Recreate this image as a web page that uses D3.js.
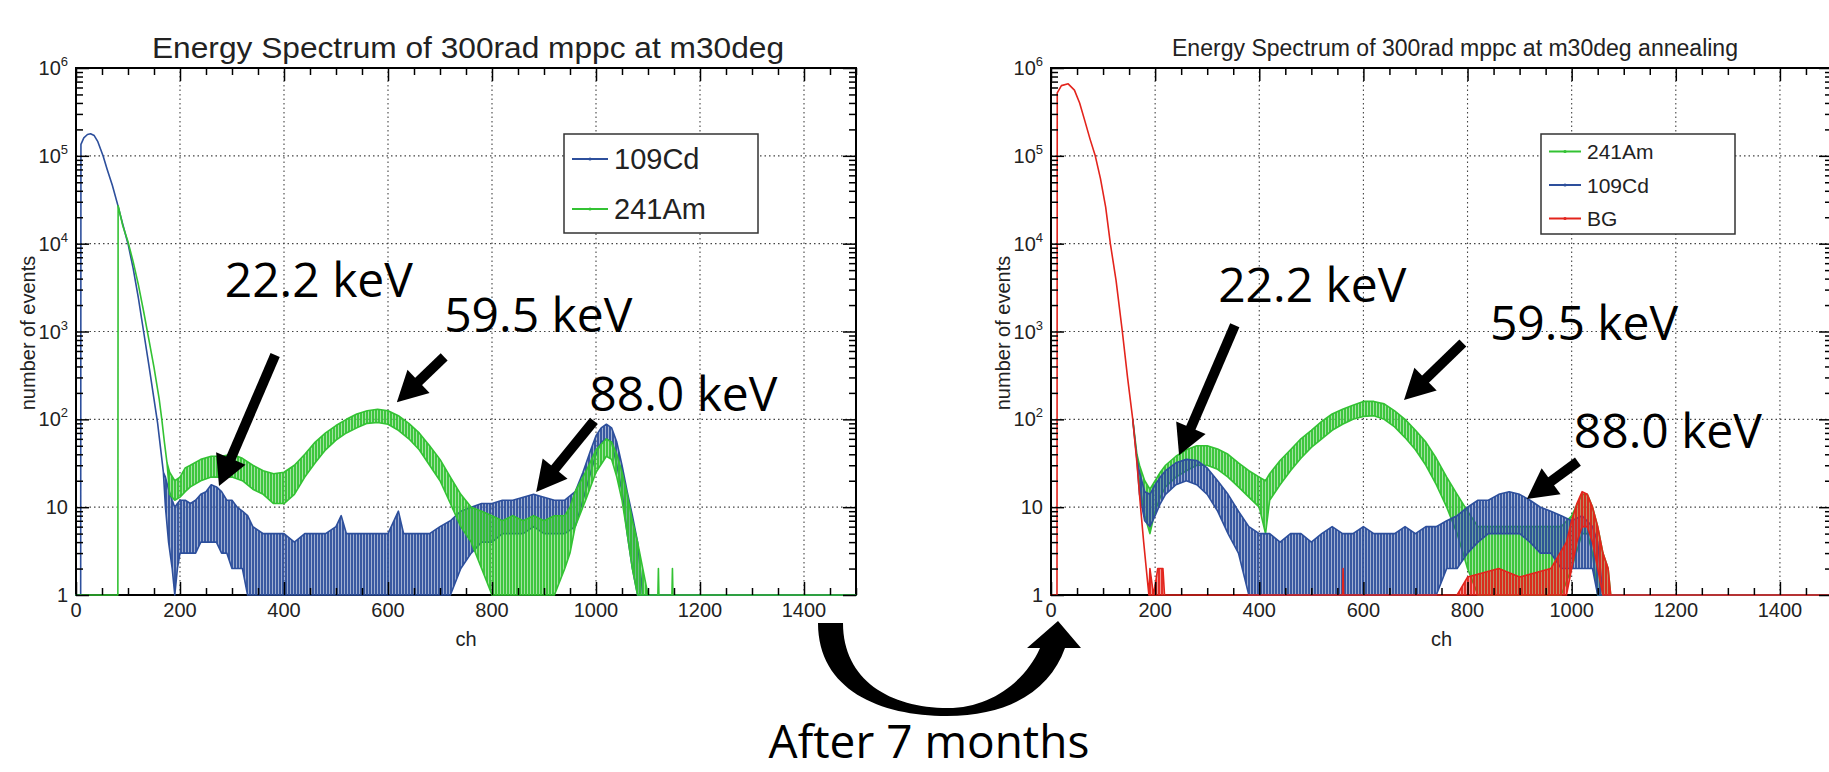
<!DOCTYPE html>
<html>
<head>
<meta charset="utf-8">
<script src="https://cdnjs.cloudflare.com/ajax/libs/d3/7.8.5/d3.min.js"></script>
<style>
  body { margin: 0; background: #fff; }
  text { font-family: "Liberation Sans", Arial, sans-serif; }
</style>
</head>
<body>
<script>
// channel ticks and log decades
var xMajor = [0, 200, 400, 600, 800, 1000, 1200, 1400];
var decades = [1, 10, 100, 1e3, 1e4, 1e5, 1e6];

// histograms: [ch, low, high] (high omitted = single value)
// left pad: before
var cdLeft = [
  [0,1],[9,1],[9.5,1.35e5],[15,1.6e5],[22,1.75e5],[28,1.78e5],[35,1.7e5],[42,1.45e5],[52,1.0e5],[60,7e4],
  [70,4.6e4],[80,2.8e4],[90,1.65e4],[100,1.0e4],[110,5.2e3],[120,2.4e3],[130,1.0e3],[140,420],[150,170],
  [157,90],[163,45],[168,25],[172,10,22],[178,4,16],[185,2,12],[190,1,10],[195,2,11],[200,3,12],[210,3,12],
  [220,3,11],[230,3,12],[240,4,14],[250,4,15],[260,4,18],[270,4,17],[280,3,15],[290,3,12],[300,2,12],
  [310,2,10],[320,2,9],[330,1,8],[340,1,6],[360,1,5],[380,1,5],[400,1,5],[420,1,4],[440,1,5],[460,1,5],
  [480,1,5],[500,1,6],[510,1,8],[520,1,5],[540,1,5],[560,1,5],[580,1,5],[600,1,5],[620,1,9],[630,1,5],
  [660,1,5],[680,1,5],[700,1,6],[720,1,7],[740,2,9],[760,3,10],[780,4,11],[800,4,11],[820,5,12],[840,5,12],
  [860,5,13],[880,6,14],[900,5,13],[920,5,12],[940,5,12],[960,6,15],[975,12,25],[990,25,45],[1000,40,65],
  [1010,55,80],[1020,60,88],[1030,55,80],[1040,30,55],[1050,15,30],[1060,5,15],[1070,2,8],[1080,1,4],
  [1090,1],[1500,1]
];
var amLeft = [
  [0,1],[80.5,1],[81,2.7e4],[90,1.6e4],[100,1.05e4],[110,6.2e3],[120,3.4e3],[130,1.7e3],[140,820],[150,390],
  [160,170],[165,100],[170,55],[175,32],[180,14,25],[190,12,20],[200,13,22],[210,15,28],[220,17,30],
  [240,20,35],[260,22,38],[280,22,38],[300,22,40],[320,20,36],[340,16,30],[360,14,26],[380,11,24],
  [400,11,25],[420,14,30],[440,22,40],[460,32,55],[480,45,70],[500,58,85],[520,70,100],[540,80,115],
  [560,90,125],[580,92,130],[600,88,125],[620,75,110],[640,60,90],[660,45,70],[680,30,50],[700,20,35],
  [720,11,22],[740,6,14],[760,4,10],[780,2,9],[800,1,8],[820,1,7],[840,1,8],[860,1,7],[880,1,8],[900,1,7],
  [920,1,8],[940,2,8],[950,3,10],[960,6,15],[980,12,25],[1000,25,45],[1020,38,60],[1030,35,55],[1040,22,40],
  [1050,12,25],[1060,5,14],[1070,2,7],[1080,1,4],[1090,1,2],[1100,1],[1119,1],[1120,1,2],[1121,1],
  [1146,1],[1147,1,2],[1148,1],[1500,1]
];
// right pad: after annealing
var bgRight = [
  [0,1],[11.5,1],[12,5.2e5],[20,6.3e5],[33,6.6e5],[45,5.6e5],[55,4.0e5],[65,2.5e5],[75,1.55e5],[85,1.0e5],
  [95,5.5e4],[105,2.6e4],[114,1.0e4],[125,3.8e3],[137,1.0e3],[147,300],[157,100],[165,32],[172,10],[178,4],
  [185,1.5],[188,1],[190,1,2],[197,1],[205,1,2],[215,1,2],[218,1],[560,1],[561,1,2],[562,1],[780,1],
  [800,1,1.6],[860,1,2],[900,1,1.6],[960,1,2],[990,1,4],[1000,2,7],[1010,4,11],[1020,6,15],[1030,6,14],
  [1040,4,10],[1050,2,6],[1060,1,3],[1070,1,2],[1075,1],[1500,1]
];
var amRight = [
  [157,100],[165,40],[170,18,30],[180,8,20],[190,5,16],[200,9,20],[210,13,25],[220,17,30],[240,22,38],
  [260,26,45],[280,30,50],[300,30,50],[320,27,46],[340,22,40],[360,17,32],[380,13,26],[400,10,22],
  [412,5,20],[420,12,24],[440,18,34],[460,26,45],[480,36,60],[500,48,75],[520,60,95],[540,75,115],
  [560,88,130],[580,100,145],[600,108,160],[620,110,160],[640,100,150],[660,82,125],[680,62,100],
  [700,45,75],[720,30,55],[740,18,36],[760,10,22],[780,5,14],[800,2,9],[820,1,6],[980,1,6],[1000,2,8],
  [1020,5,14],[1030,5,14],[1040,3,10],[1050,1,6],[1060,1,3],[1070,1,2],[1075,1],[1500,1]
];
var cdRight = [
  [157,100],[165,35],[170,14,25],[180,7,15],[190,6,14],[200,8,18],[210,11,22],[220,14,26],[240,18,32],
  [260,20,35],[280,18,34],[300,14,28],[320,9,20],[340,5,14],[360,3,9],[380,1,6],[400,1,5],[420,1,5],
  [440,1,4],[460,1,5],[480,1,5],[500,1,4],[520,1,5],[540,1,6],[560,1,5],[580,1,5],[600,1,6],[620,1,5],
  [640,1,5],[660,1,5],[680,1,6],[700,1,5],[720,1,6],[740,1,6],[760,2,7],[780,2,8],[800,3,10],[820,4,12],
  [840,5,12],[860,5,14],[880,5,15],[900,5,14],[920,4,12],[940,3,10],[960,3,9],[980,2,8],[1000,2,7],
  [1020,2,8],[1040,2,6],[1050,1,4],[1060,1],[1500,1]
];

// peak labels: [text, ch, counts] and arrows [tailCh, tailCounts, tipCh, tipCounts]
var leftNotes = [["22.2 keV", 286, 2500], ["59.5 keV", 708, 985], ["88.0 keV", 987, 124]];
var leftArrows = [[383, 540, 275, 17.4], [708, 513, 617, 157], [996, 96, 885, 14.9]];
var rightNotes = [["22.2 keV", 321, 2170], ["59.5 keV", 843, 800], ["88.0 keV", 1004, 47]];
var rightArrows = [[353, 1180, 246, 39], [791, 740, 678, 166], [1012, 33, 914, 12.4]];

var BLUE = '#2d4f9c', GREEN = '#33c233', RED = '#e3241c';

var svg = d3.select('body').append('svg').attr('width', 1829).attr('height', 772)
  .style('background', '#fff');

// thin vertical stripes so the bands read like dense noisy bins
var defs = svg.append('defs');
[['b', BLUE], ['g', GREEN], ['r', RED]].forEach(function(c) {
  var pt = defs.append('pattern').attr('id', 'stripe-' + c[0]).attr('patternUnits', 'userSpaceOnUse')
    .attr('width', 3).attr('height', 10);
  pt.append('rect').attr('width', 3).attr('height', 10).attr('fill', c[1]).attr('fill-opacity', 0.45);
  pt.append('rect').attr('width', 2).attr('height', 10).attr('fill', c[1]).attr('fill-opacity', 0.9);
});

function drawPanel(p) {
  var x = d3.scaleLinear().domain([0, 1500]).range([p.left, p.right]);
  var y = d3.scaleLog().domain([1, 1e6]).range([595, 68]);
  var g = svg.append('g');

  // dotted grid
  g.selectAll('.gx').data(xMajor.filter(function(d) { return d > 0; })).enter().append('line')
    .attr('x1', x).attr('x2', x).attr('y1', y(1)).attr('y2', y(1e6))
    .attr('stroke', '#444').attr('stroke-width', 1.1).attr('stroke-dasharray', '1.5,3');
  g.selectAll('.gy').data(decades.slice(1, 6)).enter().append('line')
    .attr('y1', y).attr('y2', y).attr('x1', x(0)).attr('x2', x(1500))
    .attr('stroke', '#444').attr('stroke-width', 1.1).attr('stroke-dasharray', '1.5,3');

  // frame
  g.append('rect').attr('x', x(0)).attr('y', y(1e6)).attr('width', x(1500) - x(0)).attr('height', y(1) - y(1e6))
    .attr('fill', 'none').attr('stroke', '#000').attr('stroke-width', 2);

  // histograms drawn as min/max bands
  var area = d3.area()
    .x(function(d) { return x(d[0]); })
    .y0(function(d) { return y(d[1]); })
    .y1(function(d) { return y(d.length > 2 ? d[2] : d[1]); });
  p.series.forEach(function(s) {
    g.append('path').datum(s.data).attr('d', area)
      .attr('fill', 'url(#stripe-' + s.key + ')')
      .attr('stroke', s.color).attr('stroke-width', 1.6).attr('stroke-linejoin', 'round');
  });

  // ticks on all four sides, pointing inward
  var xMinor = d3.range(0, 1501, 50).filter(function(d) { return d % 200 != 0; });
  var yMinor = [];
  for (var e = 0; e < 6; e++) for (var k = 2; k < 10; k++) yMinor.push(k * Math.pow(10, e));
  function tk(axis, tr) {
    var a = g.append('g').attr('transform', tr).call(axis.tickFormat(''));
    a.select('.domain').remove();
    a.selectAll('line').attr('stroke', '#000').attr('stroke-width', 1.5);
  }
  tk(d3.axisBottom(x).tickValues(xMajor).tickSize(-13), 'translate(0,' + y(1) + ')');
  tk(d3.axisBottom(x).tickValues(xMinor).tickSize(-7), 'translate(0,' + y(1) + ')');
  tk(d3.axisTop(x).tickValues(xMajor).tickSize(-13), 'translate(0,' + y(1e6) + ')');
  tk(d3.axisTop(x).tickValues(xMinor).tickSize(-7), 'translate(0,' + y(1e6) + ')');
  tk(d3.axisLeft(y).tickValues(decades).tickSize(-13), 'translate(' + x(0) + ',0)');
  tk(d3.axisLeft(y).tickValues(yMinor).tickSize(-7), 'translate(' + x(0) + ',0)');
  tk(d3.axisRight(y).tickValues(decades).tickSize(-13), 'translate(' + x(1500) + ',0)');
  tk(d3.axisRight(y).tickValues(yMinor).tickSize(-7), 'translate(' + x(1500) + ',0)');

  // tick labels
  g.selectAll('.xl').data(xMajor).enter().append('text')
    .attr('x', x).attr('y', 617).attr('text-anchor', 'middle')
    .attr('font-size', 20).attr('fill', '#222').text(function(d) { return d; });
  decades.forEach(function(d, i) {
    var t = g.append('text').attr('x', x(0) - 8).attr('y', y(d) + 7)
      .attr('text-anchor', 'end').attr('font-size', 20).attr('fill', '#222');
    if (i == 0) { t.text('1'); return; }
    t.append('tspan').text('10');
    if (i > 1) t.append('tspan').attr('font-size', 13).attr('dy', -9).text(i);
  });

  // axis titles
  g.append('text').attr('x', (x(0) + x(1500)) / 2).attr('y', 646).attr('text-anchor', 'middle')
    .attr('font-size', 20).attr('fill', '#222').text('ch');
  g.append('text').attr('transform', 'translate(' + (x(0) - 41) + ',333) rotate(-90)')
    .attr('text-anchor', 'middle').attr('font-size', 20).attr('fill', '#222').text('number of events');

  g.append('text').attr('x', p.titleX).attr('y', p.titleY).attr('text-anchor', 'middle')
    .attr('font-size', p.titleSize).attr('textLength', p.titleLen).attr('lengthAdjust', 'spacingAndGlyphs')
    .attr('fill', '#222').text(p.title);

  // legend
  var L = p.legend;
  g.append('rect').attr('x', L.x).attr('y', L.y).attr('width', L.w).attr('height', L.h)
    .attr('fill', '#fff').attr('stroke', '#333').attr('stroke-width', 1.5);
  L.rows.forEach(function(r, i) {
    var ry = L.y + L.first + i * L.step;
    g.append('line').attr('x1', L.x + 8).attr('x2', L.x + 8 + L.line).attr('y1', ry).attr('y2', ry)
      .attr('stroke', r.color).attr('stroke-width', 2);
    g.append('circle').attr('cx', L.x + 8 + L.line / 2).attr('cy', ry).attr('r', 1.6).attr('fill', r.color);
    g.append('text').attr('x', L.x + 14 + L.line).attr('y', ry + L.font * 0.36)
      .attr('font-size', L.font).attr('fill', '#222').text(r.name);
  });

  // peak annotations
  p.notes.forEach(function(n) {
    g.append('text').attr('x', x(n[1])).attr('y', y(n[2]))
      .style('font-family', '"Open Sans", sans-serif').attr('font-size', 48).attr('fill', '#000').text(n[0]);
  });
  p.arrows.forEach(function(a) {
    var x1 = x(a[0]), y1 = y(a[1]), x2 = x(a[2]), y2 = y(a[3]);
    var len = Math.hypot(x2 - x1, y2 - y1), ux = (x2 - x1) / len, uy = (y2 - y1) / len;
    var hl = 30, hw = 16, bx = x2 - ux * hl, by = y2 - uy * hl;
    g.append('line').attr('x1', x1).attr('y1', y1).attr('x2', bx + ux * 2).attr('y2', by + uy * 2)
      .attr('stroke', '#000').attr('stroke-width', 10);
    g.append('path').attr('d', 'M' + x2 + ',' + y2 + 'L' + (bx - uy * hw) + ',' + (by + ux * hw) +
      'L' + (bx + uy * hw) + ',' + (by - ux * hw) + 'Z').attr('fill', '#000');
  });
}

drawPanel({
  left: 76, right: 856,
  title: 'Energy Spectrum of 300rad mppc at m30deg', titleX: 468, titleY: 58, titleSize: 29, titleLen: 632,
  series: [{ data: cdLeft, color: BLUE, key: 'b' }, { data: amLeft, color: GREEN, key: 'g' }],
  legend: { x: 564, y: 134, w: 194, h: 99, first: 25, step: 50, line: 36, font: 29,
    rows: [{ name: '109Cd', color: BLUE }, { name: '241Am', color: GREEN }] },
  notes: leftNotes, arrows: leftArrows
});
drawPanel({
  left: 1051, right: 1832,
  title: 'Energy Spectrum of 300rad mppc at m30deg annealing', titleX: 1455, titleY: 56, titleSize: 23, titleLen: 566,
  series: [{ data: amRight, color: GREEN, key: 'g' }, { data: cdRight, color: BLUE, key: 'b' },
    { data: bgRight, color: RED, key: 'r' }],
  legend: { x: 1541, y: 134, w: 194, h: 100, first: 17.5, step: 33.5, line: 32, font: 21,
    rows: [{ name: '241Am', color: GREEN }, { name: '109Cd', color: BLUE }, { name: 'BG', color: RED }] },
  notes: rightNotes, arrows: rightArrows
});

// curved arrow between the two pads
svg.append('path')
  .attr('d', 'M818,623 C818,690 880,716 947,716 C1010,716 1050,690 1065,648 L1081,648 L1058,621 L1027,648 ' +
    'L1040,648 C1025,682 990,708 948,708 C890,708 843,680 843,623 Z')
  .attr('fill', '#000');
svg.append('text').attr('x', 929).attr('y', 758).attr('text-anchor', 'middle')
  .style('font-family', '"Open Sans", sans-serif').attr('font-size', 46).attr('fill', '#000')
  .text('After 7 months');
</script>
</body>
</html>
